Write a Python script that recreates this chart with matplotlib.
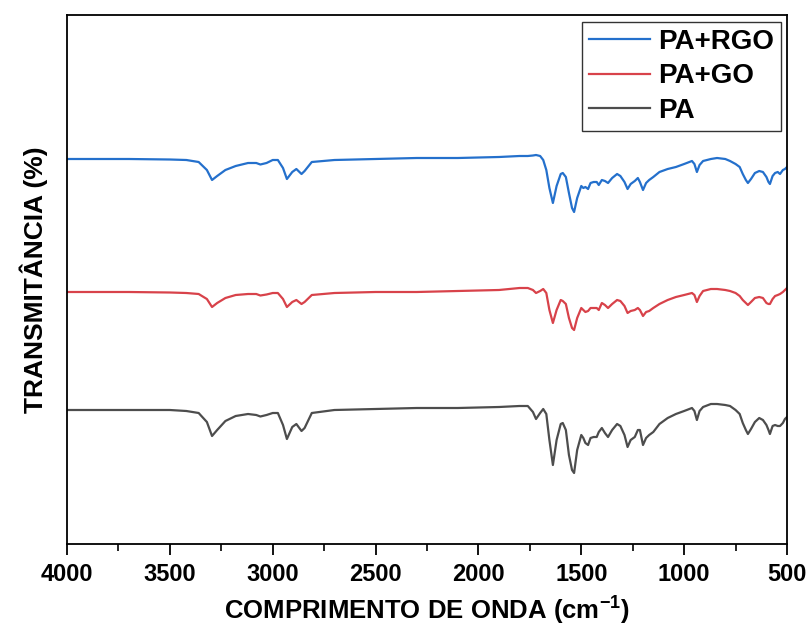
import matplotlib
matplotlib.use("Agg")
import matplotlib.pyplot as plt
from matplotlib.ticker import MultipleLocator

plt.rcParams['mathtext.fontset'] = 'custom'
plt.rcParams['mathtext.rm'] = 'Liberation Sans:bold'
plt.rcParams['mathtext.bf'] = 'Liberation Sans:bold'

wavenumber = [4000, 3700, 3500, 3420, 3360, 3320, 3295, 3270, 3230, 3180,
              3120, 3080, 3060, 3030, 3000, 2975, 2950, 2931, 2905, 2885,
              2860, 2845, 2810, 2700, 2500, 2300, 2100, 1900, 1800, 1760,
              1735, 1720, 1700, 1685, 1670, 1655, 1638, 1620, 1600, 1590,
              1575, 1560, 1545, 1535, 1520, 1500, 1490, 1480, 1467, 1455,
              1440, 1425, 1415, 1400, 1385, 1370, 1350, 1326, 1310, 1290,
              1275, 1260, 1240, 1225, 1215, 1200, 1185, 1170, 1150, 1120,
              1080, 1040, 1000, 962, 950, 938, 925, 908, 870, 840,
              800, 777, 750, 730, 715, 700, 690, 675, 656, 635,
              617, 600, 590, 583, 570, 558, 545, 534, 520, 510, 500]

pa_rgo = [385, 385, 384.5, 384, 382, 374, 364, 368, 374, 378,
          381, 381, 379.5, 381, 384, 384, 376, 365, 372, 375,
          370, 373, 382, 384, 385, 386, 386, 387, 388, 388,
          388.5, 389, 388, 384, 374, 356, 341, 358, 370, 371,
          367, 351, 336, 332, 346, 358, 356, 357, 355, 361,
          362, 362, 359, 364, 363, 361, 366, 370, 368, 362,
          355, 360, 363, 366, 362, 354, 361, 364, 367, 372,
          375, 377, 380, 383, 380, 372, 379, 383, 385, 386,
          385, 383, 380, 377, 370, 364, 361, 365, 371, 373,
          372, 367, 362, 360, 368, 371, 372, 370, 374, 375, 377]

pa_go = [252, 252, 251.5, 251, 250, 245, 237, 241, 246, 249,
         250, 250, 248.5, 249.5, 251, 251, 245, 237, 242, 244,
         240, 242, 249, 251, 252, 252, 253, 254, 256, 256,
         254, 251, 253, 255, 251, 234, 221, 234, 244, 243,
         240, 226, 216, 214, 226, 236, 234, 232, 233, 236,
         236, 236, 234, 241, 239, 236, 240, 244, 243, 238,
         231, 233, 234, 236, 234, 228, 232, 233, 236, 240,
         244, 247, 249, 251, 249, 242, 248, 253, 255, 255,
         254, 253, 251, 248, 244, 241, 239, 242, 246, 247,
         246, 241, 240, 240, 245, 248, 249, 250, 252, 254, 256]

pa = [134, 134, 134, 133, 131, 122, 108, 114, 123, 128,
      130, 129, 127.5, 129, 131, 131, 119, 105, 117, 120,
      113, 116, 131, 134, 135, 136, 136, 137, 138, 138,
      132, 125, 131, 135, 130, 104, 79, 104, 120, 121,
      114, 89, 74, 71, 94, 109, 106, 101, 99, 106,
      107, 107, 112, 116, 111, 107, 114, 120, 118, 109,
      97, 104, 107, 114, 114, 99, 106, 109, 112, 120,
      126, 130, 133, 136, 133, 124, 133, 137, 140, 140,
      139, 138, 134, 130, 121, 114, 110, 115, 122, 126,
      124, 119, 114, 110, 118, 119, 118, 118, 121, 125, 127]

series_labels = ["PA+RGO", "PA+GO", "PA"]
colors = ["#2470CC", "#D8424A", "#4D4D4D"]
x_ticks = [4000, 3500, 3000, 2500, 2000, 1500, 1000, 500]

fig = plt.figure(figsize=(8.06, 6.30), dpi=100)
ax = fig.add_axes([67/806, 1-544/630, 720/806, 529/630])

for y, lab, c in zip([pa_rgo, pa_go, pa], series_labels, colors):
    ax.plot(wavenumber, y, color=c, lw=1.6, label=lab)

ax.set_xlim(4000, 500)
ax.set_ylim(0, 529)
ax.set_xticks(x_ticks)
ax.xaxis.set_minor_locator(MultipleLocator(250))
ax.set_yticks([])
ax.tick_params(axis='x', which='major', direction='out', length=8, width=1.3,
               top=False, pad=6)
ax.tick_params(axis='x', which='minor', direction='out', length=5, width=1.2,
               top=False)
for lbl in ax.get_xticklabels():
    lbl.set_fontfamily(['Liberation Sans Narrow', 'Liberation Sans'])
    lbl.set_fontweight('bold')
    lbl.set_fontsize(17)
for s in ax.spines.values():
    s.set_linewidth(1.3)
    s.set_color('black')

ax.set_xlabel("COMPRIMENTO DE ONDA (cm$^{-1}$)",
              family=['Liberation Sans Narrow', 'Liberation Sans'],
              fontweight='bold', fontsize=18.5, labelpad=5)
ax.set_ylabel("TRANSMITÂNCIA (%)", family=['Liberation Sans'],
              fontweight='bold', fontsize=19, labelpad=14)

leg = ax.legend(loc='upper right', bbox_to_anchor=(0.9917, 0.9868),
                prop={'family': 'Liberation Sans', 'weight': 'bold', 'size': 20},
                frameon=True, fancybox=False, edgecolor='black',
                handlelength=2.2, handletextpad=0.3, labelspacing=0.3,
                borderpad=0.25, borderaxespad=0.0)
leg.get_frame().set_linewidth(1.0)

fig.savefig("out.png", dpi=100)
